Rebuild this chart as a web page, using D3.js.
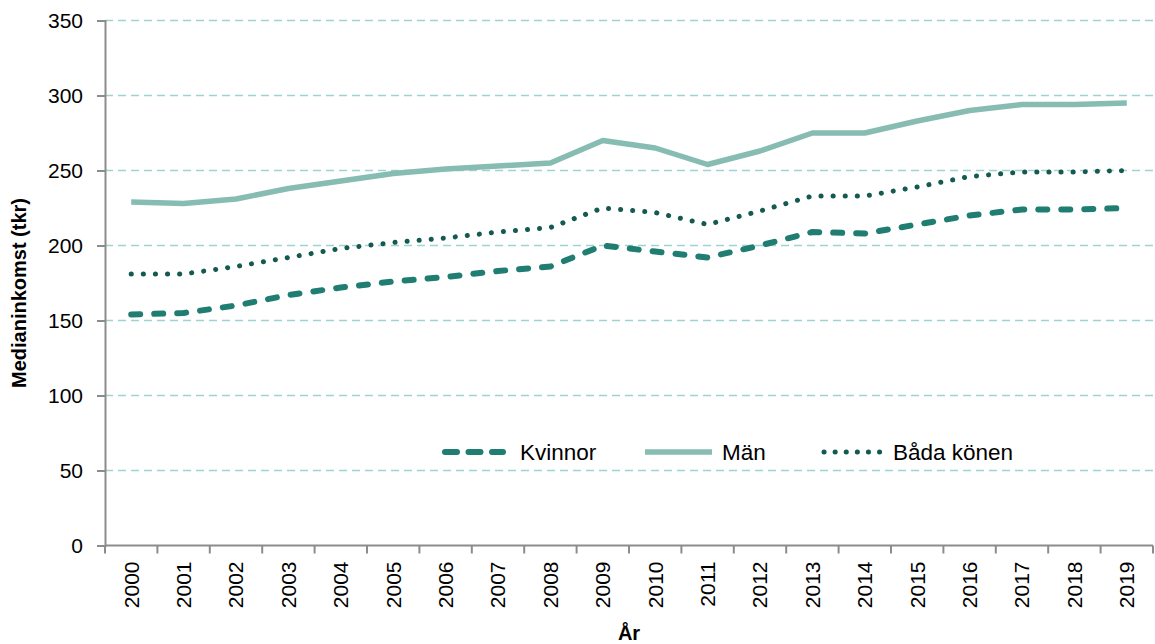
<!DOCTYPE html>
<html>
<head>
<meta charset="utf-8">
<script src="https://cdn.jsdelivr.net/npm/d3@7"></script>
<style>
body{margin:0;background:#fff;}
text{font-family:"Liberation Sans",Arial,sans-serif;fill:#000;}
</style>
</head>
<body>
<div id="chart"></div>
<script>
let years = ["2000","2001","2002","2003","2004","2005","2006","2007","2008","2009",
             "2010","2011","2012","2013","2014","2015","2016","2017","2018","2019"];
let kvinnor = [154,155,160,167,172,176,179,183,186,200,196,192,200,209,208,214,220,224,224,225];
let man     = [229,228,231,238,243,248,251,253,255,270,265,254,263,275,275,283,290,294,294,295];
let bada    = [181,181,186,192,198,202,205,209,212,225,222,214,223,233,233,239,246,249,249,250];
let yTicks  = [0,50,100,150,200,250,300,350];
let seriesNames = ["Kvinnor","Män","Båda könen"];

function config(){
    let width = 1155, height = 644;
    let margin = {top:20.5, left:105, right:2, bottom:98.5};
    let bodyWidth = width - margin.left - margin.right;
    let bodyHeight = height - margin.top - margin.bottom;
    let svg = d3.select("#chart").append("svg")
        .attr("width", width).attr("height", height);
    let container = svg.append("g")
        .attr("transform", "translate(" + [margin.left, margin.top] + ")");
    return {width, height, margin, bodyWidth, bodyHeight, svg, container};
}

function scales(cfg){
    let xScale = d3.scaleBand().domain(years).range([0, cfg.bodyWidth]).padding(0);
    let yScale = d3.scaleLinear().domain([0,350]).range([cfg.bodyHeight, 0]);
    return {xScale, yScale};
}

function drawAxes(cfg, sc){
    let {container, bodyWidth, bodyHeight} = cfg;
    let {xScale, yScale} = sc;

    // gridlines
    container.append("g").selectAll("line")
        .data(yTicks.filter(d => d > 0))
        .enter().append("line")
        .attr("x1", 0).attr("x2", bodyWidth)
        .attr("y1", d => yScale(d)).attr("y2", d => yScale(d))
        .attr("stroke", "#9dd3d2").attr("stroke-width", 1.3)
        .attr("stroke-dasharray", "8,5");

    // y axis
    let yAxis = container.append("g")
        .call(d3.axisLeft(yScale).tickValues(yTicks).tickSize(8).tickPadding(14));
    yAxis.selectAll("path,line").attr("stroke", "#8c8c8c").attr("stroke-width", 2);
    yAxis.selectAll("text").style("font-size", "21px")
        .style("font-family", "Liberation Sans, Arial, sans-serif").attr("fill", "#000");

    // x axis: baseline + ticks between categories
    let xg = container.append("g").attr("transform", "translate(0," + bodyHeight + ")");
    xg.append("line").attr("x1", 0).attr("x2", bodyWidth)
        .attr("stroke", "#8c8c8c").attr("stroke-width", 2);
    xg.selectAll(".bt").data(years.concat(["end"])).enter().append("line")
        .attr("x1", (d,i) => i * xScale.step()).attr("x2", (d,i) => i * xScale.step())
        .attr("y1", 0).attr("y2", 8)
        .attr("stroke", "#8c8c8c").attr("stroke-width", 2);
    xg.selectAll(".lbl").data(years).enter().append("text")
        .attr("transform", d => "translate(" + (xScale(d) + xScale.bandwidth()/2) + ",16) rotate(-90)")
        .attr("text-anchor", "end").attr("dy", "0.35em")
        .style("font-size", "21px")
        .text(d => d);

    cfg.svg.append("text")
        .attr("transform", "translate(26," + (cfg.margin.top + bodyHeight/2 + 10) + ") rotate(-90)")
        .attr("text-anchor", "middle")
        .style("font-size", "20px").style("font-weight", "bold")
        .text("Medianinkomst (tkr)");
    cfg.svg.append("text")
        .attr("x", cfg.margin.left + bodyWidth/2).attr("y", 640)
        .attr("text-anchor", "middle")
        .style("font-size", "20px").style("font-weight", "bold")
        .text("År");
}

let styles = [
    {color:"#207d71", width:6, dash:"9,14", cap:"round"},
    {color:"#86bcb2", width:5.5, dash:null, cap:"butt"},
    {color:"#155a50", width:5, dash:"0.1,12", cap:"round"}
];

function drawLines(cfg, sc){
    let {xScale, yScale} = sc;
    let data = [kvinnor, man, bada];
    let line = d3.line()
        .x((d,i) => xScale(years[i]) + xScale.bandwidth()/2)
        .y(d => yScale(d));
    // draw Män first so the darker lines sit on top
    [1,2,0].forEach(k => {
        cfg.container.append("path")
            .datum(data[k])
            .attr("d", line)
            .attr("fill", "none")
            .attr("stroke", styles[k].color)
            .attr("stroke-width", styles[k].width)
            .attr("stroke-linecap", styles[k].cap)
            .attr("stroke-linejoin", "round")
            .attr("stroke-dasharray", styles[k].dash);
    });
}

function legend(cfg){
    let y = 452;
    let items = [
        {x1:445, x2:503, tx:520},
        {x1:645, x2:712, tx:722},
        {x1:824, x2:880, tx:893}
    ];
    let lg = cfg.svg.append("g");
    items.forEach((it, i) => {
        lg.append("line")
            .attr("x1", it.x1).attr("x2", it.x2).attr("y1", y).attr("y2", y)
            .attr("stroke", styles[i].color).attr("stroke-width", styles[i].width)
            .attr("stroke-linecap", styles[i].cap)
            .attr("stroke-dasharray", i === 0 ? "12,11.5" : (i === 2 ? "0.1,11" : null));
        lg.append("text").attr("x", it.tx).attr("y", y).attr("dy", "0.35em")
            .style("font-size", "22.5px").text(seriesNames[i]);
    });
}

let cfg = config();
let sc = scales(cfg);
drawAxes(cfg, sc);
drawLines(cfg, sc);
legend(cfg);
</script>
</body>
</html>
